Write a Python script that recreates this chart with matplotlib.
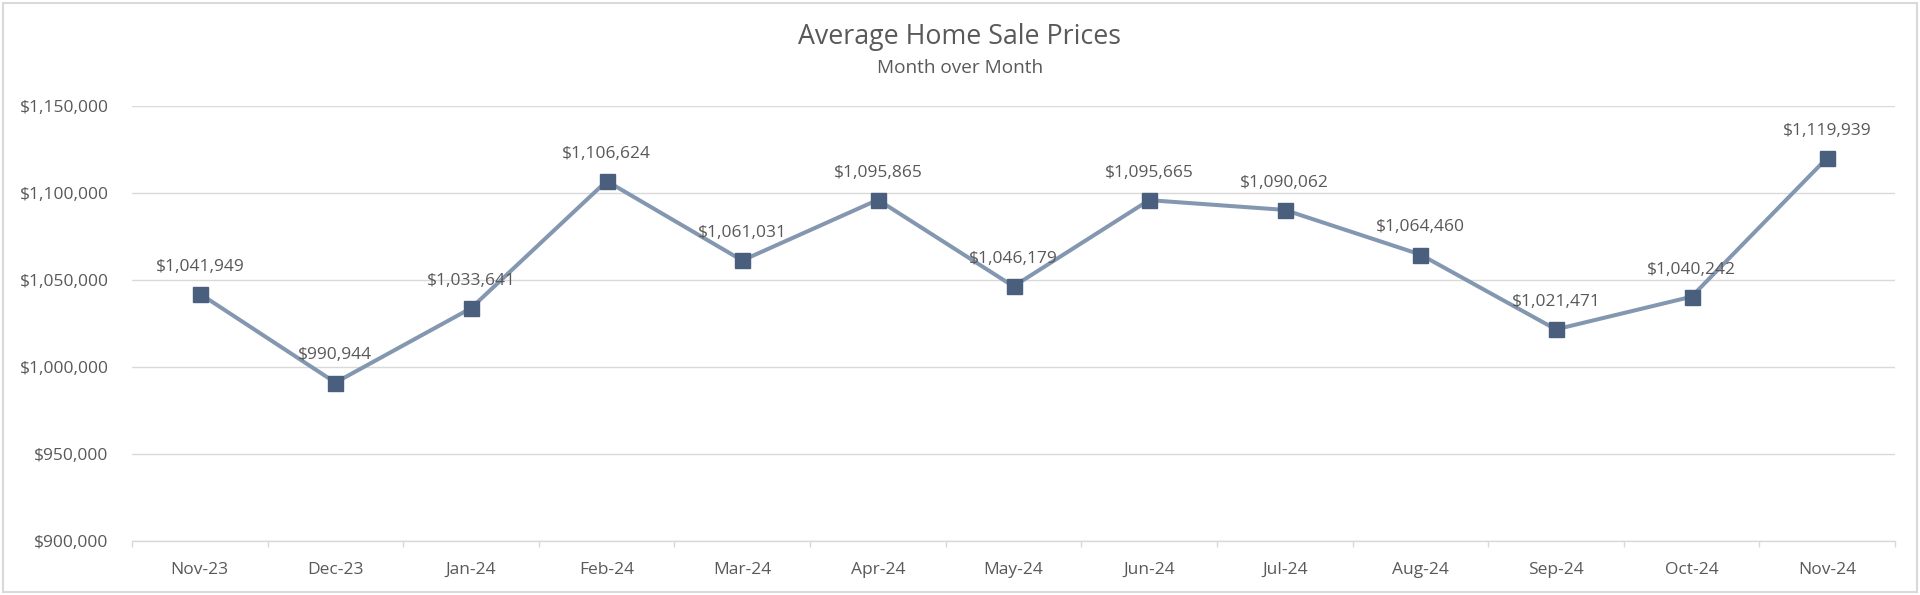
import matplotlib
matplotlib.use("Agg")
import matplotlib.pyplot as plt
from matplotlib.ticker import FuncFormatter, FixedLocator
from matplotlib.patches import Rectangle

months = ["Nov-23", "Dec-23", "Jan-24", "Feb-24", "Mar-24", "Apr-24", "May-24",
          "Jun-24", "Jul-24", "Aug-24", "Sep-24", "Oct-24", "Nov-24"]
prices = [1041949, 990944, 1033641, 1106624, 1061031, 1095865, 1046179,
          1095665, 1090062, 1064460, 1021471, 1040242, 1119939]
y_ticks = [900000, 950000, 1000000, 1050000, 1100000, 1150000]

plt.rcParams['font.family'] = ['Open Sans', 'DejaVu Sans']
text_color = '#595959'
grid_color = '#D9D9D9'

fig = plt.figure(figsize=(19.2, 5.95), dpi=100)
ax = fig.add_axes([132 / 1920, 1 - 541 / 595, (1895 - 132) / 1920, (541 - 105.5) / 595])

x = list(range(len(months)))
ax.plot(x, prices, color='#8497B0', lw=2.9, marker='s', markersize=10.8,
        markerfacecolor='#4A5E7E', markeredgecolor='#4A5E7E', zorder=3)

for xi, p in zip(x, prices):
    ax.annotate(f"${p:,.0f}", (xi, p), xytext=(0, 19.5), textcoords='offset points',
                ha='center', va='center', fontsize=12.5, color=text_color, zorder=4)

ax.set_xlim(-0.5, len(months) - 0.5)
ax.set_ylim(y_ticks[0], y_ticks[-1])
ax.set_yticks(y_ticks)
ax.yaxis.set_major_formatter(FuncFormatter(lambda v, _: f"${v:,.0f}"))
ax.set_xticks(x)
ax.set_xticklabels(months)
ax.xaxis.set_minor_locator(FixedLocator([i - 0.5 for i in range(len(months) + 1)]))
ax.tick_params(axis='x', which='major', length=0, pad=15, labelsize=12.5, labelcolor=text_color)
ax.tick_params(axis='x', which='minor', length=4, color=grid_color, width=1)
ax.tick_params(axis='y', length=0, pad=17, labelsize=12.5, labelcolor=text_color)

ax.grid(axis='y', color=grid_color, lw=1)
ax.set_axisbelow(True)
for s in ['top', 'right', 'left']:
    ax.spines[s].set_visible(False)
ax.spines['bottom'].set_color(grid_color)
ax.spines['bottom'].set_linewidth(1)

fig.text(0.5, 1 - 37 / 595, "Average Home Sale Prices", ha='center', va='center',
         fontsize=19.3, color=text_color)
fig.text(0.5, 1 - 68 / 595, "Month over Month", ha='center', va='center',
         fontsize=13.7, color=text_color)

fig.patches.append(Rectangle((3 / 1920, 3 / 595), 1 - 6 / 1920, 1 - 6 / 595,
                             transform=fig.transFigure, fill=False,
                             edgecolor='#D9D9D9', lw=1.5))

fig.savefig("out.png", dpi=100, facecolor='white')
